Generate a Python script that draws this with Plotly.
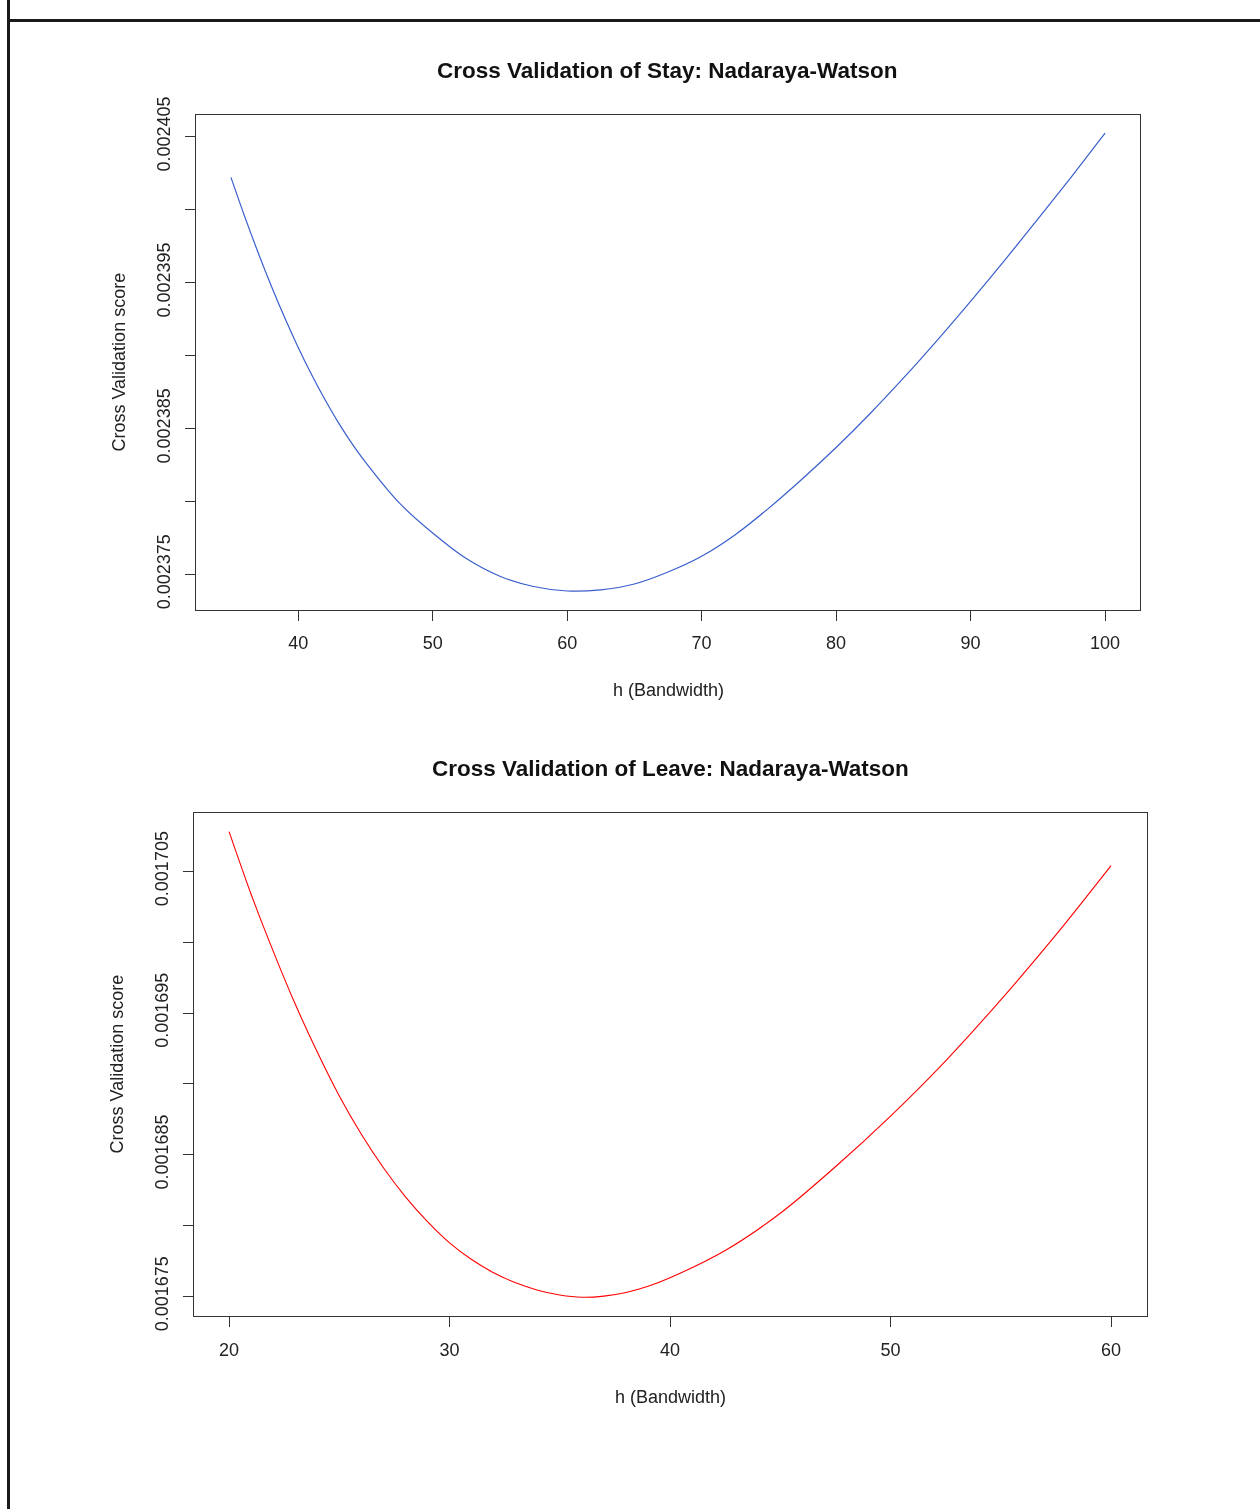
import plotly.graph_objects as go

# ---------------- data ----------------
stay_h = [35, 36, 37, 38, 39, 40, 41, 42, 43, 44, 45, 47.5, 50, 52.5, 55, 57.5, 60,
          62.5, 65, 67.5, 70, 72.5, 75, 77.5, 80, 82.5, 85, 87.5, 90, 92.5, 95, 97.5, 100]
stay_cv = [0.00240221, 0.00239958, 0.00239710, 0.00239477, 0.00239259, 0.00239056,
           0.00238869, 0.00238697, 0.00238539, 0.00238397, 0.00238270, 0.00237992,
           0.00237784, 0.00237609, 0.00237488, 0.00237418, 0.00237387, 0.00237395,
           0.00237435, 0.00237517, 0.00237625, 0.00237773, 0.00237955, 0.00238156,
           0.00238370, 0.00238600, 0.00238845, 0.00239103, 0.00239372, 0.00239649,
           0.00239935, 0.00240225, 0.00240524]

leave_h = [20, 21, 22, 23, 24, 25, 26, 27, 28, 29, 30, 31, 32, 33, 34, 35, 36, 37, 38,
           39, 40, 42.5, 45, 47.5, 50, 52.5, 55, 57.5, 60]
leave_cv = [0.00170780, 0.00170338, 0.00169937, 0.00169563, 0.00169225, 0.00168915,
            0.00168644, 0.00168408, 0.00168203, 0.00168028, 0.00167878, 0.00167760,
            0.00167667, 0.00167596, 0.00167544, 0.00167510, 0.00167494, 0.00167502,
            0.00167528, 0.00167572, 0.00167632, 0.00167824, 0.00168087, 0.00168415,
            0.00168773, 0.00169163, 0.00169593, 0.00170051, 0.00170540]

stay_xticks = [40, 50, 60, 70, 80, 90, 100]
stay_yticks = [0.002375, 0.00238, 0.002385, 0.00239, 0.002395, 0.0024, 0.002405]
stay_ytext = ["0.002375", "", "0.002385", "", "0.002395", "", "0.002405"]

leave_xticks = [20, 30, 40, 50, 60]
leave_yticks = [0.001675, 0.00168, 0.001685, 0.00169, 0.001695, 0.0017, 0.001705]
leave_ytext = ["0.001675", "", "0.001685", "", "0.001695", "", "0.001705"]

title_stay = "Cross Validation of Stay: Nadaraya-Watson"
title_leave = "Cross Validation of Leave: Nadaraya-Watson"
xlab = "h (Bandwidth)"
ylab = "Cross Validation score"

# ---------------- figure ----------------
W = 1260
H = 1525
SY, OY = 0.9792, 16.7   # vertical mapping of the capture (page px -> picture px)
FONT = "Liberation Sans, Arial, sans-serif"
TXT = "#222222"
AX = "#333333"


def px(x):
    return x / W


def py(y):
    return 1 - (y / SY - OY) / H


fig = go.Figure()
fig.add_trace(go.Scatter(x=stay_h, y=stay_cv, mode="lines",
                         line=dict(color="#3A5FCD", width=1.2, shape="spline", smoothing=0.8),
                         xaxis="x", yaxis="y", showlegend=False))
fig.add_trace(go.Scatter(x=leave_h, y=leave_cv, mode="lines",
                         line=dict(color="#FF0000", width=1.1, shape="spline", smoothing=0.8),
                         xaxis="x2", yaxis="y2", showlegend=False))

common = dict(showline=True, mirror=True, linecolor=AX, linewidth=1, ticks="outside",
              ticklen=10, tickwidth=1, tickcolor=AX, showgrid=False, zeroline=False,
              tickfont=dict(family=FONT, size=18, color=TXT), fixedrange=True)

fig.update_layout(
    width=W, height=H, margin=dict(l=0, r=0, t=0, b=0),
    paper_bgcolor="rgba(0,0,0,0)", plot_bgcolor="white",
    xaxis=dict(domain=[px(196), px(1140)], range=[32.4, 102.6], anchor="y",
               tickvals=stay_xticks, ticklabelstandoff=7, **common),
    yaxis=dict(domain=[py(608), py(113)], range=[0.0023726, 0.00240651], anchor="x",
               tickvals=stay_yticks, ticktext=stay_ytext, tickangle=-90,
               ticklabelstandoff=8, **common),
    xaxis2=dict(domain=[px(194), px(1147)], range=[18.41, 61.63], anchor="y2",
                tickvals=leave_xticks, ticklabelstandoff=7, **common),
    yaxis2=dict(domain=[py(1315), py(812)], range=[0.00167359, 0.00170908], anchor="x2",
                tickvals=leave_yticks, ticktext=leave_ytext, tickangle=-90,
                ticklabelstandoff=8, **common),
)

ann = []
ann.append(dict(text="<b>" + title_stay + "</b>", x=px(667), y=py(69),
                font=dict(family=FONT, size=22.5, color="#111111")))
ann.append(dict(text="<b>" + title_leave + "</b>", x=px(670), y=py(767),
                font=dict(family=FONT, size=22.5, color="#111111")))
ann.append(dict(text=xlab, x=px(668), y=py(688), font=dict(family=FONT, size=18, color=TXT)))
ann.append(dict(text=xlab, x=px(670), y=py(1396), font=dict(family=FONT, size=18, color=TXT)))
ann.append(dict(text=ylab, x=px(119), y=py(361), textangle=-90,
                font=dict(family=FONT, size=18, color=TXT)))
ann.append(dict(text=ylab, x=px(117), y=py(1063), textangle=-90,
                font=dict(family=FONT, size=18, color=TXT)))
for a in ann:
    a.update(xref="paper", yref="paper", xanchor="center", yanchor="middle", showarrow=False)
fig.update_layout(annotations=ann)

# top edge of the screenshot frame (as high as the page allows)
fig.add_shape(type="line", xref="paper", yref="paper", x0=px(7), x1=1.0,
              y0=1 - 2.5 / H, y1=1 - 2.5 / H, line=dict(color="#1a1a1a", width=3))

# left edge of the frame painted on the page background, full height
post = (
    "var de=document.documentElement, b=document.body;"
    "de.style.margin='0'; b.style.margin='0'; b.style.padding='0';"
    "de.style.overflow='hidden';"
    "de.style.background='#ffffff linear-gradient(to right,transparent 7px,#1a1a1a 7px,#1a1a1a 10px,transparent 10px)';"
    "b.style.background='transparent';"
    "var g=document.querySelector('.plotly-graph-div');"
    "if(g){g.style.setProperty('position','fixed','important');"
    "g.style.setProperty('left','0px','important');"
    "g.style.setProperty('top','0px','important');"
    "g.style.setProperty('margin','0px','important');}"
)

fig.write_html("out.html", config={"displayModeBar": False}, post_script=post)
